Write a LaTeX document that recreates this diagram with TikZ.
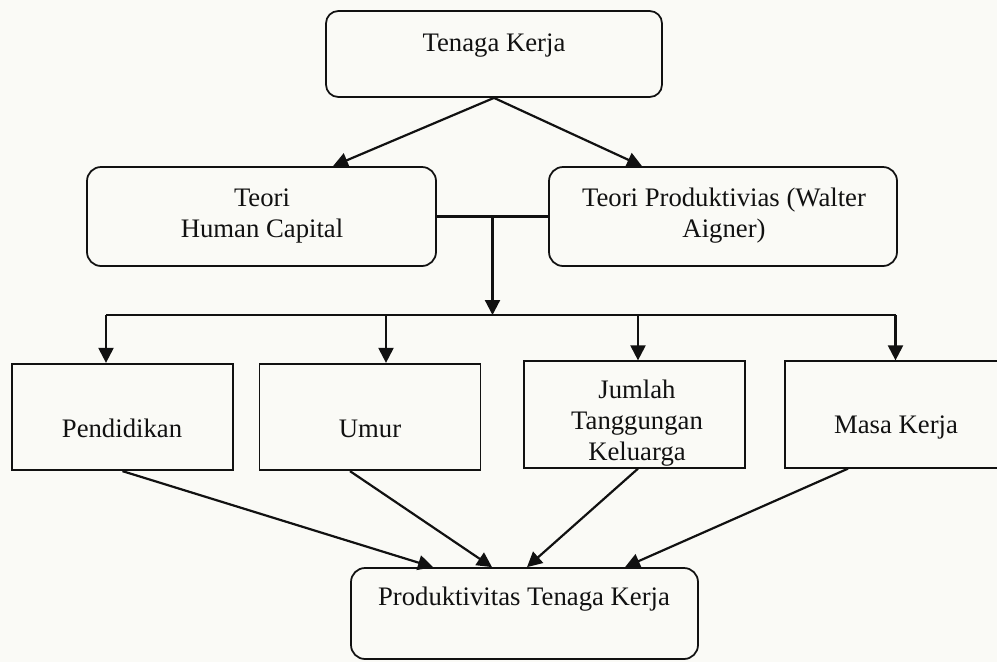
\documentclass[tikz,border=0pt]{standalone}
\usepackage{fontspec}
\setmainfont{Liberation Serif}
\usetikzlibrary{arrows.meta,positioning,calc}
\definecolor{PaperBg}{HTML}{FAFAF6}
\definecolor{BoxInk}{HTML}{111111}

\begin{document}
\begin{tikzpicture}[
    rbox/.style={
      draw=BoxInk,
      line width=1pt,
      rounded corners=#1,
      inner sep=0pt
    },
    sbox/.style={
      draw=BoxInk,
      line width=1pt,
      inner sep=0pt,
      minimum width=4.42cm,
      minimum height=2.13cm
    },
    txt/.style={
      font=\fontsize{15.2}{17.6}\selectfont,
      align=center,
      inner sep=0pt,
      color=BoxInk
    },
    link/.style={
      draw=BoxInk,
      line width=1.25pt
    },
    arr/.style={
      link,
      -{Triangle[length=8.5pt,width=8.5pt]}
    }
  ]

  \useasboundingbox (0,0) rectangle (19.94,-13.24);
  \fill[PaperBg] (0,0) rectangle (19.94,-13.24);

  % Tenaga Kerja
  \node[rbox=7pt, minimum width=6.72cm, minimum height=1.72cm] (tk) at (9.88,-1.08) {};
  \node[txt, anchor=base] (tkText) at (9.88,-1.02) {Tenaga Kerja};

  % teori
  \node[rbox=8pt, minimum width=6.98cm, minimum height=1.98cm] (hc) at (5.23,-4.33) {};
  \node[txt, anchor=north] (hcText) at (5.24,-3.77) {Teori\\Human Capital};
  \node[rbox=8pt, minimum width=6.96cm, minimum height=1.98cm] (tp) at (14.46,-4.33) {};
  \node[txt, anchor=north] (tpText) at (14.48,-3.76) {Teori Produktivias (Walter\\Aigner)};

  % variabel
  \node[txt, anchor=base] (pendText) at (2.44,-8.74) {Pendidikan};
  \node[sbox] (pend) at (2.45,-8.34) {};
  \node[txt, anchor=base] (umurText) at (7.40,-8.74) {Umur};
  \node[sbox] (umur) at (7.40,-8.34) {};
  \node[txt, anchor=north] (jtkText) at (12.74,-7.59) {Jumlah\\Tanggungan\\Keluarga};
  \node[sbox] (jtk) at (12.69,-8.29) {};
  \node[txt, anchor=base] (masaText) at (17.92,-8.66) {Masa Kerja};
  \node[sbox] (masa) at (17.91,-8.29) {};

  % Produktivitas
  \node[rbox=8pt, minimum width=6.94cm, minimum height=1.82cm] (ptk) at (10.49,-12.27) {};
  \node[txt, anchor=base] (ptkText) at (10.48,-12.10) {Produktivitas Tenaga Kerja};

  % panah dari tenaga kerja
  \draw[arr] (tk.south) -- ([xshift=1.43cm]hc.north);
  \draw[arr] (tk.south) -- ([xshift=-1.62cm]tp.north);

  % gabungan teori
  \coordinate (mid) at ($(hc.east)!0.5!(tp.west)$);
  \coordinate (bus) at ([yshift=-1.97cm]mid);
  \draw[link] (hc.east) -- (tp.west);
  \draw[arr] (mid) -- (bus);

  % cabang ke variabel
  \coordinate (pendIn) at ([xshift=-0.33cm]pend.north);
  \coordinate (umurIn) at ([xshift=0.32cm]umur.north);
  \coordinate (jtkIn) at ([xshift=0.07cm]jtk.north);
  \coordinate (masaIn) at (masa.north);
  \draw[link] (pendIn |- bus) -- (masaIn |- bus);
  \foreach \n in {pendIn,umurIn,jtkIn,masaIn}
    \draw[arr] (\n |- bus) -- (\n);

  % ke produktivitas
  \draw[arr] (pend.south) -- ([xshift=-1.83cm]ptk.north);
  \draw[arr] ([xshift=-0.4cm]umur.south) -- ([xshift=-0.65cm]ptk.north);
  \draw[arr] ([xshift=0.07cm]jtk.south) -- ([xshift=0.05cm]ptk.north);
  \draw[arr] ([xshift=-0.95cm]masa.south) -- ([xshift=2.01cm]ptk.north);

\end{tikzpicture}
\end{document}
